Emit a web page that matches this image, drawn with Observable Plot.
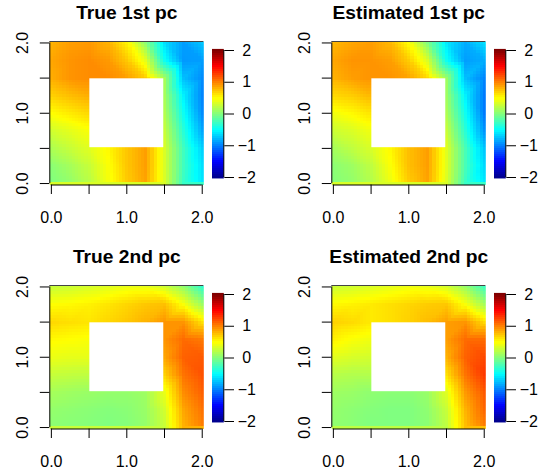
<!DOCTYPE html>
<html><head><meta charset="utf-8">
<script src="https://cdn.jsdelivr.net/npm/d3@7"></script>
<script src="https://cdn.jsdelivr.net/npm/@observablehq/plot@0.6"></script>
<style>
body{margin:0;background:#fff;}
#root{position:relative;width:543px;height:471px;overflow:hidden;background:#fff;font-family:"Liberation Sans",Arial,sans-serif;}
.panel{position:absolute;width:271px;height:235px;}
.panel .layer{position:absolute;top:0;}
</style></head><body><div id="root"></div>
<script>
// sample grid (null = inside the hole)
const gridX = [0, 0.25, 0.5, 0.75, 1, 1.25, 1.5, 1.75, 2];
const gridY = [2, 1.75, 1.5, 1.25, 1, 0.75, 0.5, 0.25, 0];

const true1 = [
  [0.80, 0.88, 0.90, 0.80, 0.55, 0.05, -0.62, -0.88, -0.72],
  [0.85, 0.92, 0.95, 0.90, 0.72, 0.40, -0.45, -0.90, -0.88],
  [0.82, 0.92, 0.95, 0.95, 0.88, 0.70, 0.15, -0.75, -0.95],
  [0.68, 0.76, 0.82, null, null, null, 0.15, -0.55, -0.98],
  [0.50, 0.58, 0.65, null, null, null, 0.20, -0.45, -0.95],
  [0.32, 0.40, 0.48, null, null, null, 0.28, -0.35, -0.85],
  [0.18, 0.28, 0.38, 0.52, 0.72, 0.88, 0.35, -0.25, -0.68],
  [0.05, 0.15, 0.28, 0.48, 0.72, 0.88, 0.35, -0.25, -0.62],
  [0.00, 0.08, 0.22, 0.45, 0.70, 0.86, 0.35, -0.28, -0.60]
];
const est1 = [
  [0.78, 0.85, 0.88, 0.78, 0.50, 0.00, -0.58, -0.82, -0.62],
  [0.85, 0.92, 0.92, 0.88, 0.70, 0.35, -0.45, -0.88, -0.82],
  [0.80, 0.88, 0.92, 0.92, 0.86, 0.65, 0.12, -0.75, -0.98],
  [0.65, 0.70, 0.78, null, null, null, 0.12, -0.55, -1.02],
  [0.45, 0.52, 0.60, null, null, null, 0.18, -0.45, -1.02],
  [0.30, 0.36, 0.45, null, null, null, 0.28, -0.35, -0.92],
  [0.15, 0.25, 0.35, 0.52, 0.75, 0.88, 0.38, -0.22, -0.72],
  [0.05, 0.12, 0.25, 0.48, 0.75, 0.88, 0.38, -0.22, -0.65],
  [0.02, 0.08, 0.20, 0.42, 0.70, 0.86, 0.35, -0.28, -0.58]
];
const true2 = [
  [0.28, 0.30, 0.34, 0.38, 0.42, 0.42, 0.32, 0.08, -0.30],
  [0.50, 0.52, 0.55, 0.60, 0.66, 0.72, 0.75, 0.48, 0.12],
  [0.65, 0.62, 0.60, 0.66, 0.72, 0.80, 0.92, 0.92, 0.62],
  [0.52, 0.50, 0.48, null, null, null, 0.92, 1.08, 1.02],
  [0.42, 0.40, 0.40, null, null, null, 0.85, 1.12, 1.15],
  [0.28, 0.26, 0.25, null, null, null, 0.68, 1.05, 1.18],
  [0.15, 0.12, 0.10, 0.08, 0.08, 0.12, 0.42, 0.95, 1.12],
  [0.08, 0.06, 0.04, 0.02, 0.04, 0.10, 0.32, 0.85, 1.05],
  [0.05, 0.03, 0.02, 0.00, 0.02, 0.08, 0.28, 0.80, 1.00]
];
const est2 = [
  [0.30, 0.32, 0.36, 0.40, 0.44, 0.42, 0.34, 0.10, -0.25],
  [0.52, 0.55, 0.58, 0.62, 0.66, 0.70, 0.72, 0.48, 0.15],
  [0.68, 0.64, 0.58, 0.62, 0.68, 0.76, 0.88, 0.92, 0.65],
  [0.55, 0.48, 0.44, null, null, null, 0.88, 1.08, 1.08],
  [0.38, 0.34, 0.32, null, null, null, 0.80, 1.12, 1.22],
  [0.22, 0.20, 0.20, null, null, null, 0.62, 1.05, 1.28],
  [0.12, 0.10, 0.06, 0.04, 0.04, 0.10, 0.38, 0.90, 1.15],
  [0.08, 0.05, 0.02, 0.00, 0.00, 0.06, 0.28, 0.80, 1.10],
  [0.06, 0.04, 0.00, 0.00, 0.00, 0.04, 0.24, 0.75, 1.00]
];

const titles = ["True 1st pc", "Estimated 1st pc", "True 2nd pc", "Estimated 2nd pc"];
const grids = [true1, est1, true2, est2];
const holeBounds = [0.51, 1.49];
const xTickVals = [0, 0.5, 1, 1.5, 2];
const xTickLabels = ["0.0", "", "1.0", "", "2.0"];
const yTickVals = [0, 0.5, 1, 1.5, 2];
const yTickLabels = ["0.0", "", "1.0", "", "2.0"];
const cbTickVals = [-2, -1, 0, 1, 2];
const zlim = [-2, 2];
const jetStops = [-2, -1.5, -0.5, 0.5, 1.5, 2];
const jetColors = ["#00008F", "#0000FF", "#00FFFF", "#FFFF00", "#FF0000", "#800000"];

// layout
const nCells = 49;
const half = 1 / 48;
const lo = -half, hi = 2 + half;
const panelPos = [[0, 0], [281.5, 0], [0, 244], [281.5, 244]];
const font = "'Liberation Sans', Arial, sans-serif";
const colorScale = {type: "linear", domain: jetStops, range: jetColors, clamp: true};
const fmtInt = d3.format("d");

function toPoints(grid) {
  const pts = [];
  grid.forEach((row, i) => row.forEach((v, j) => {
    if (v != null) pts.push({x: gridX[j], y: gridY[i], v});
  }));
  return pts;
}

const root = document.getElementById("root");
grids.forEach((grid, k) => {
  const panel = document.createElement("div");
  panel.className = "panel";
  panel.style.left = panelPos[k][0] + "px";
  panel.style.top = panelPos[k][1] + "px";
  root.appendChild(panel);

  const pts = toPoints(grid);
  const hole = [{x1: holeBounds[0], x2: holeBounds[1], y1: holeBounds[0], y2: holeBounds[1]}];
  const ylab = yTickVals.map((v, i) => ({v, label: yTickLabels[i]}));

  const main = Plot.plot({
    width: 271, height: 235,
    marginLeft: 49.3, marginRight: 67.7, marginTop: 41, marginBottom: 50.5,
    style: {fontFamily: font, fontSize: "16px", background: "none", color: "#000"},
    x: {domain: [lo, hi]},
    y: {domain: [lo, hi]},
    color: colorScale,
    marks: [
      Plot.raster(pts, {x: "x", y: "y", fill: "v", x1: lo, x2: hi, y1: lo, y2: hi,
        width: nCells, height: nCells, interpolate: "barycentric", imageRendering: "pixelated"}),
      Plot.rect(hole, {x1: "x1", x2: "x2", y1: "y1", y2: "y2", fill: "white"}),
      Plot.ruleY([hi], {stroke: "#444", strokeWidth: 1}),
      Plot.ruleY([lo], {x1: 0, x2: 2, stroke: "#000", strokeWidth: 1}),
      Plot.ruleX([lo], {y1: 0, y2: 2, stroke: "#000", strokeWidth: 1}),
      Plot.axisX({ticks: xTickVals, tickSize: 9.5, tickPadding: 17,
        tickFormat: d => xTickLabels[xTickVals.indexOf(d)], fontSize: 16}),
      Plot.axisY({ticks: yTickVals, tickSize: 9.5, tickFormat: () => ""}),
      Plot.text(ylab, {y: "v", text: "label", frameAnchor: "left", rotate: -90, dx: -22.3,
        textAnchor: "middle", lineAnchor: "bottom", fontSize: 16}),
      Plot.text([titles[k]], {frameAnchor: "top", dy: -22.5, lineAnchor: "bottom",
        fontWeight: "bold", fontSize: 19.2})
    ]
  });
  main.classList.add("layer");
  main.style.left = "0px";
  panel.appendChild(main);

  const cb = Plot.plot({
    width: 71, height: 235,
    marginLeft: 11.5, marginRight: 47.7, marginTop: 50, marginBottom: 58,
    style: {fontFamily: font, fontSize: "16px", background: "none", color: "#000"},
    x: {domain: [0, 1], axis: null},
    y: {domain: zlim, axis: null},
    color: colorScale,
    marks: [
      Plot.raster({fill: (x, y) => y, x1: 0, x2: 1, y1: -2.03, y2: 2.05, width: 1, height: 64,
        imageRendering: "pixelated"}),
      Plot.ruleX([1], {y1: zlim[0], y2: zlim[1], stroke: "#000", strokeWidth: 1}),
      Plot.axisY({anchor: "right", ticks: cbTickVals, tickSize: 9.7, tickFormat: () => ""}),
      Plot.text(cbTickVals, {y: d => d, text: d => fmtInt(d), frameAnchor: "right", dx: 23,
        textAnchor: "middle", lineAnchor: "middle", fontSize: 16})
    ]
  });
  cb.classList.add("layer");
  cb.style.left = "200px";
  panel.appendChild(cb);
});
</script></body></html>
